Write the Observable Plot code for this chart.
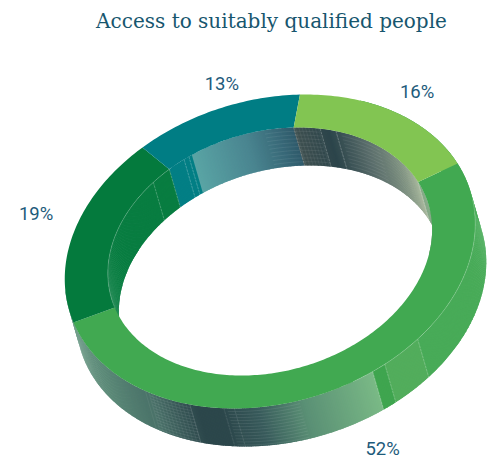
<!DOCTYPE html>
<html>
<head>
<meta charset="utf-8">
<script src="https://cdn.jsdelivr.net/npm/d3@7"></script>
<script src="https://cdn.jsdelivr.net/npm/@observablehq/plot@0.6"></script>
<style>
  html, body { margin: 0; padding: 0; background: #fff; }
  svg { display: block; }
</style>
</head>
<body>
<div id="chart"></div>
<script>
// Shares of the ring, clockwise from the upper right
const shares = [52, 19, 13, 16];
const shareLabels = ["52%", "19%", "13%", "16%"];
const faceColors = ["#41a951", "#047a3d", "#007d84", "#82c552"];
const chartTitle = "Access to suitably qualified people";

// Oblique view of the ring: centre, axes of the unit circle, extrusion vector
const center = [269.5, 251];
const axisA = [187.5, -88];
const axisB = [83.5, 130];
const depth = [11, 38];
const innerRadius = 0.79;
const labelNudge = [[41, 62], [-38, -17], [5, -25], [23, -20]];

// Wall shading, as [angle, colour] stops around the ring
const outerShade = [
  [-40, "#48ab58"], [68, "#48ab58"], [68.01, "#52ad5c"], [80, "#52ad5c"], [80.01, "#3fa54f"], [84, "#3fa54f"],
  [84.01, "#7aba86"], [105, "#5a8f75"], [118, "#37595a"], [128, "#2c474b"], [135, "#2c474b"],
  [150, "#4a7269"], [170, "#5c8a78"], [200, "#74a08c"]
];
const innerShade = [
  [187.2, "#087d41"], [255.6, "#087d41"], [255.61, "#037f85"], [265, "#037f85"],
  [265.01, "#5aa5a5"], [285, "#4a8590"], [302.4, "#2f5a6b"],
  [302.41, "#3f5050"], [315, "#2c454b"], [330, "#5a6d6b"], [345, "#7d9080"], [360, "#a3b497"],
  [360.01, "#7aa07c"], [395, "#7aa07c"]
];

const shadeScale = (stops) => d3.scaleLinear(stops.map((d) => d[0]), stops.map((d) => d[1])).interpolate(d3.interpolateRgb);
const outerColor = shadeScale(outerShade);
const innerColor = shadeScale(innerShade);

function project(deg, radius, h = 0) {
  const t = (deg * Math.PI) / 180;
  const c = Math.cos(t), s = Math.sin(t);
  return {
    x: center[0] + radius * (c * axisA[0] + s * axisB[0]) + h * depth[0],
    y: center[1] + radius * (c * axisA[1] + s * axisB[1]) + h * depth[1]
  };
}

// Cumulative slice boundaries in degrees
const total = d3.sum(shares);
let running = 0;
const slices = shares.map((v, i) => {
  const start = (running / total) * 360;
  running += v;
  return { i, start, end: (running / total) * 360 };
});

// Ring faces: one closed polygon per slice
const facePoints = slices.flatMap((s) => {
  const n = Math.ceil(s.end - s.start);
  const pts = [];
  for (let k = 0; k <= n; k++) pts.push(project(s.start + ((s.end - s.start) * k) / n, 1));
  for (let k = n; k >= 0; k--) pts.push(project(s.start + ((s.end - s.start) * k) / n, innerRadius));
  return pts.map((p) => ({ ...p, id: s.i, color: faceColors[s.i] }));
});

// Walls are strips of narrow quads, each with its own shade; every quad runs
// slightly past its neighbour so that no seams show between them
function wallQuads(from, to, step, radius, colorOf, tag) {
  const out = [];
  for (let a = from, k = 0; a < to; a += step, k++) {
    const c = colorOf(a + step / 2);
    const id = `${tag}${k}`;
    const b = Math.min(a + step * 1.8, to);
    [project(a, radius), project(b, radius), project(b, radius, 1), project(a, radius, 1)]
      .forEach((p) => out.push({ ...p, id, color: c }));
  }
  return out;
}
const outerWall = wallQuads(-40, 200, 0.5, 1, outerColor, "o");
const innerWall = wallQuads(187.2, 395, 0.5, innerRadius, innerColor, "i");

// Fine concentric rules across the dark stretches of the walls
function contour(from, to, radius, h, tag = "") {
  const out = [];
  for (let a = from; a <= to; a += 1) out.push({ ...project(a, radius, h), id: `${tag}${radius}-${h}` });
  return out;
}
const outerRules = d3.range(0.08, 1, 0.08).flatMap((h) => [
  ...contour(106, 126, 1, h, "a"),
  ...contour(137, 150, 1, h, "b")
]);
const innerRules = d3.range(0.1, 1, 0.1).flatMap((h) => [
  ...contour(292, 311, innerRadius, h, "a"),
  ...contour(320, 336, innerRadius, h, "b")
]);
const crossRules = [
  ...d3.range(137, 152, 1.2).flatMap((d) => seam(d, 1)),
  ...d3.range(303, 312, 1.2).flatMap((d) => seam(d, innerRadius))
];

// Dashed seams where the wall panels meet
function seam(deg, radius) {
  return [project(deg, radius), project(deg, radius, 1)].map((p) => ({ ...p, id: `${deg}-${radius}` }));
}
const panelSeams = [
  ...[68, 80, 84].flatMap((d) => seam(d, 1)),
  ...[248, 255.6, 262, 264, 302.4, 312, 318, 360].flatMap((d) => seam(d, innerRadius))
];
const darkSeams = [124, 127, 137].flatMap((d) => seam(d, 1));

// Thin highlights along the upper rims of the walls
const rimLines = [
  ...contour(15, 90, 1, 0),
  ...contour(187, 256, innerRadius, 0)
];

const labels = slices.map((s, i) => {
  const p = project((s.start + s.end) / 2, 1);
  return { x: p.x + labelNudge[i][0], y: p.y + labelNudge[i][1], text: shareLabels[i] };
});

const chart = Plot.plot({
  width: 487,
  height: 460,
  margin: 0,
  x: { domain: [0, 487], range: [0, 487], axis: null },
  y: { domain: [0, 460], range: [0, 460], axis: null },
  marks: [
    Plot.line(outerWall, { x: "x", y: "y", z: "id", fill: "color", stroke: "none" }),
    Plot.line(outerRules, { x: "x", y: "y", z: "id", stroke: "#ffffff", strokeOpacity: 0.16, strokeWidth: 0.5 }),
    Plot.line(innerWall, { x: "x", y: "y", z: "id", fill: "color", stroke: "none" }),
    Plot.line(innerRules, { x: "x", y: "y", z: "id", stroke: "#ffffff", strokeOpacity: 0.14, strokeWidth: 0.5 }),
    Plot.line(crossRules, { x: "x", y: "y", z: "id", stroke: "#ffffff", strokeOpacity: 0.12, strokeWidth: 0.5 }),
    Plot.line(panelSeams, { x: "x", y: "y", z: "id", stroke: "#ffffff", strokeOpacity: 0.35, strokeWidth: 0.7, strokeDasharray: "2 1.5" }),
    Plot.line(darkSeams, { x: "x", y: "y", z: "id", stroke: "#ffffff", strokeOpacity: 0.18, strokeWidth: 0.6, strokeDasharray: "2 1.5" }),
    Plot.line(facePoints, { x: "x", y: "y", z: "id", fill: "color", stroke: "none" }),
    Plot.line(rimLines, { x: "x", y: "y", z: "id", stroke: "#ffffff", strokeOpacity: 0.35, strokeWidth: 0.6 }),
    Plot.text(labels, { x: "x", y: "y", text: "text", fill: "#1e5b7b", fontSize: 18.5, fontFamily: "Roboto", fontWeight: 400 }),
    Plot.text([chartTitle], { frameAnchor: "top", dy: 13, dx: 27.5, fill: "#17566e", fontSize: 20, fontFamily: "DejaVu Serif" })
  ]
});
document.getElementById("chart").append(chart);
</script>
</body>
</html>
